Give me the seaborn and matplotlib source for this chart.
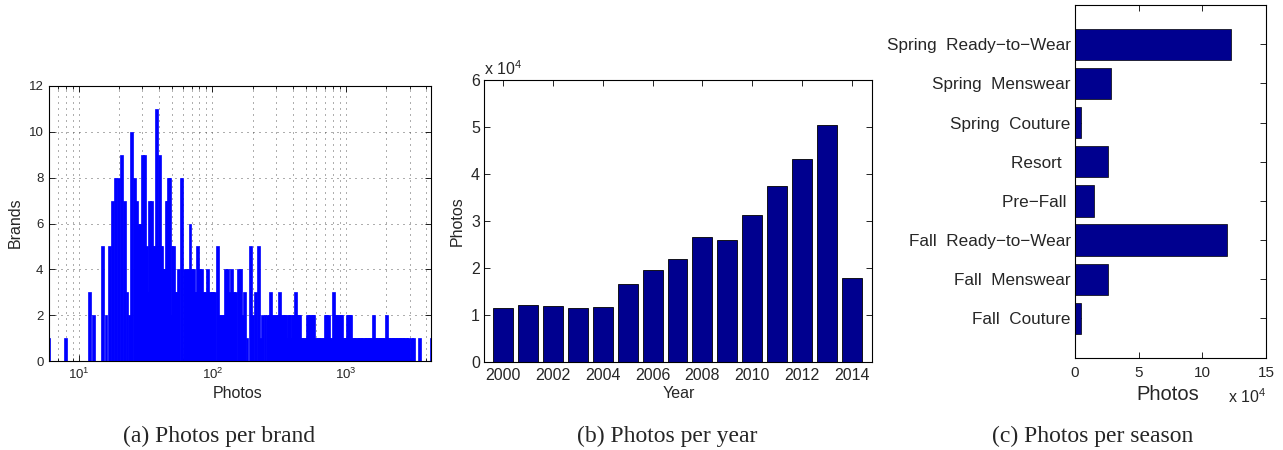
import matplotlib
matplotlib.use('Agg')
import numpy as np
import pandas as pd
import seaborn as sns
import matplotlib.pyplot as plt

# (a) distinct photo counts per brand and how many brands share each count
brand_photos = [6, 8, 12, 13, 15, 16, 17, 18, 19, 20, 21, 22, 23, 24, 25, 26, 27, 28, 29, 30,
                31, 32, 33, 34, 35, 36, 37, 38, 39, 40, 41, 42, 43, 44, 45, 46, 47, 48, 49, 50,
                51, 52, 54, 56, 59, 62, 64, 66, 68, 70, 72, 74, 76, 78, 80, 83, 86, 89, 92, 95,
                98, 100, 104, 110, 114, 118, 121, 125, 130, 135, 140, 145, 150, 156, 162, 168, 175, 182, 192, 200,
                210, 222, 230, 238, 248, 258, 268, 274, 282, 292, 302, 310, 318, 327, 336, 345, 354, 362, 370, 380,
                390, 398, 406, 422, 431, 440, 450, 466, 476, 490, 504, 515, 530, 545, 560, 575, 590, 610, 625, 640,
                660, 680, 700, 720, 740, 760, 780, 805, 830, 855, 880, 905, 925, 955, 980, 1000, 1020, 1045, 1070, 1090,
                1115, 1140, 1170, 1200, 1230, 1260, 1290, 1320, 1355, 1390, 1420, 1455, 1490, 1525, 1560, 1605, 1640, 1680, 1720, 1760,
                1800, 1845, 1890, 1940, 2000, 2050, 2100, 2150, 2200, 2250, 2305, 2360, 2420, 2480, 2540, 2600, 2660, 2720, 2790, 2860,
                2920, 3110, 3190, 3550, 4330]
brand_counts = [1, 1, 3, 2, 5, 2, 5, 7, 8, 8, 9, 7, 3, 2, 10, 8, 7, 6, 6, 9,
                9, 5, 3, 7, 7, 5, 5, 11, 5, 9, 5, 5, 4, 4, 7, 7, 8, 8, 2, 5,
                5, 3, 3, 4, 8, 4, 4, 4, 6, 4, 4, 3, 3, 5, 4, 4, 3, 3, 4, 3,
                3, 3, 3, 5, 2, 2, 2, 4, 4, 3, 4, 3, 3, 4, 4, 2, 3, 1, 5, 2,
                3, 5, 1, 2, 2, 2, 2, 3, 2, 2, 2, 2, 3, 2, 2, 2, 2, 1, 2, 2,
                1, 2, 2, 3, 2, 2, 2, 1, 1, 1, 1, 2, 2, 2, 2, 2, 1, 1, 1, 1,
                1, 1, 2, 2, 2, 1, 1, 3, 2, 2, 2, 2, 2, 1, 1, 1, 2, 2, 2, 2,
                1, 1, 1, 1, 1, 1, 1, 1, 1, 1, 1, 1, 1, 1, 1, 2, 1, 1, 1, 1,
                1, 1, 1, 1, 2, 1, 1, 1, 1, 1, 1, 1, 1, 1, 1, 1, 1, 1, 1, 1,
                1, 1, 1, 1, 1]

# (b) photos per year
years = [2000, 2001, 2002, 2003, 2004, 2005, 2006, 2007, 2008, 2009, 2010, 2011, 2012, 2013, 2014]
year_photos = [11500, 12100, 11900, 11500, 11700, 16600, 19600, 21900, 26600, 25800,
               31300, 37400, 43200, 50400, 17700]

# (c) photos per season
seasons = ['Spring  Ready\u2212to\u2212Wear', 'Spring  Menswear', 'Spring  Couture', 'Resort  ',
           'Pre\u2212Fall ', 'Fall  Ready\u2212to\u2212Wear', 'Fall  Menswear', 'Fall  Couture']
season_photos = [122800, 28300, 4700, 26200, 14900, 119600, 26200, 4700]

sns.set_style('ticks')
plt.rcParams['font.family'] = ['Liberation Sans', 'DejaVu Sans']
plt.rcParams['mathtext.fontset'] = 'custom'
plt.rcParams['mathtext.rm'] = 'Liberation Sans'
plt.rcParams['mathtext.it'] = 'Liberation Sans:italic'
plt.rcParams['axes.linewidth'] = 0.8
plt.rcParams['axes.edgecolor'] = 'black'

W, H = 1283, 450
fig = plt.figure(figsize=(W / 100, H / 100), dpi=100)


def box(l, t, r, b):
    return [l / W, 1 - b / H, (r - l) / W, (b - t) / H]


def ftext(x, y, s, **kw):
    fig.text(x / W, 1 - y / H, s, **kw)


navy = '#00008f'
dots = (0, (1.2, 6))

# ---- (a) photos per brand
ax = fig.add_axes(box(49, 86, 431, 361))
hw = 0.0105
x = np.array(brand_photos, dtype=float)
left = x * 10 ** -hw
ax.bar(left, brand_counts, width=x * 10 ** hw - left, align='edge',
       color='#0000ff', edgecolor='#0000ff', linewidth=0.5)
ax.set_xscale('log')
ax.set_xlim(6, 4330)
ax.set_ylim(0, 12)
ax.set_yticks(range(0, 13, 2))
ax.set_axisbelow(True)
ax.grid(True, which='major', linestyle=dots, color='0.25', linewidth=0.6)
ax.xaxis.grid(True, which='minor', linestyle=dots, color='0.25', linewidth=0.6)
ax.tick_params(which='both', direction='in', top=True, right=True, width=0.6,
               labelsize=9.5, color='black')
ax.tick_params(which='major', length=4, pad=4)
ax.tick_params(which='minor', length=2)
ftext(15, 223, 'Brands', rotation=90, ha='center', va='center', fontsize=11.5)
ftext(238, 393, 'Photos', ha='center', va='center', fontsize=11.5)

# ---- (b) photos per year
df_year = pd.DataFrame({'year': years, 'photos': np.array(year_photos) / 1e4})
ax = fig.add_axes(box(484, 80, 872, 361.5))
sns.barplot(data=df_year, x='year', y='photos', color=navy, saturation=1, width=0.8,
            edgecolor='black', linewidth=0.6, errorbar=None, ax=ax)
ax.set_xlim(-0.76, 14.8)
ax.set_ylim(0, 6)
ax.set_yticks(range(0, 7))
ax.set_xticks(range(0, 15, 2))
ax.set_xticklabels([str(y) for y in years[::2]])
ax.set_xlabel('')
ax.set_ylabel('')
ax.tick_params(direction='in', top=True, right=True, length=4, width=0.6,
               labelsize=11.5, color='black')
ax.tick_params(axis='x', pad=5)
ax.tick_params(axis='y', pad=3)
ftext(457, 221, 'Photos', rotation=90, ha='center', va='center', fontsize=11.5)
ftext(679, 393, 'Year', ha='center', va='center', fontsize=11.5)
ftext(484, 75, r'x 10$^4$', ha='left', va='baseline', fontsize=11.5)

# ---- (c) photos per season
df_season = pd.DataFrame({'season': seasons, 'photos': np.array(season_photos) / 1e4})
ax = fig.add_axes(box(1075, 5, 1266, 357.5))
sns.barplot(data=df_season, x='photos', y='season', orient='h', color=navy, saturation=1,
            width=0.8, edgecolor='black', linewidth=0.5, errorbar=None, ax=ax)
ax.set_xlim(0, 15)
ax.set_ylim(8, -1)
ax.set_xticks([0, 5, 10, 15])
ax.set_xlabel('')
ax.set_ylabel('')
ax.tick_params(direction='in', top=True, right=True, length=4, width=0.6, color='black')
ax.tick_params(axis='x', labelsize=11, pad=6)
ax.tick_params(axis='y', labelsize=12.3, pad=3)
ftext(1168, 394, 'Photos', ha='center', va='center', fontsize=14.5)
ftext(1266, 403, r'x 10$^4$', ha='right', va='baseline', fontsize=11.5)

# ---- captions
for cx, cap in [(219, '(a) Photos per brand'), (667, '(b) Photos per year'),
                (1093, '(c) Photos per season')]:
    ftext(cx, 442, cap, ha='center', va='baseline', fontsize=17,
          family=['Liberation Serif', 'DejaVu Serif'])

fig.savefig('out.png', dpi=100)
